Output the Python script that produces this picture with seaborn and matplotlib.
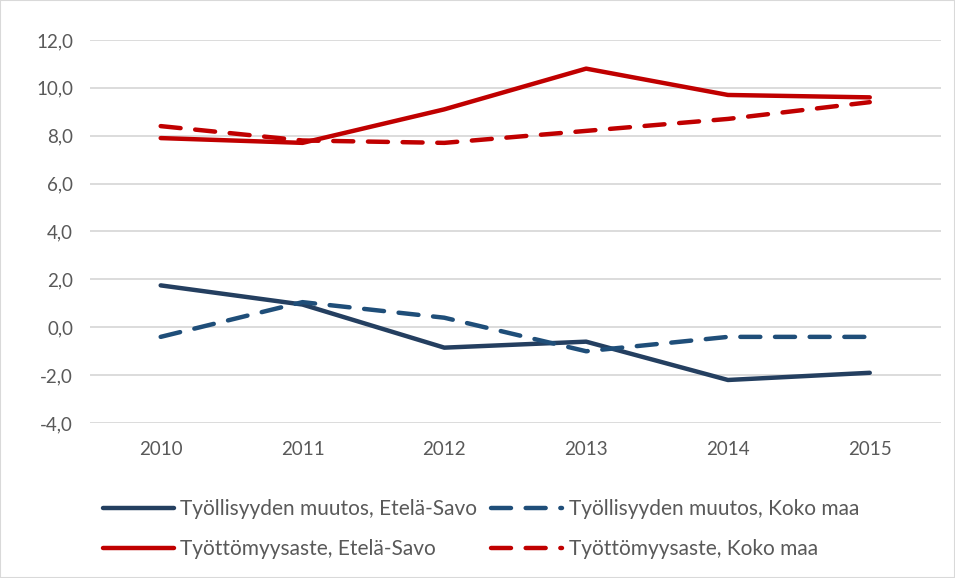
import pandas as pd
import matplotlib.pyplot as plt
import seaborn as sns
from matplotlib.patches import Rectangle

# Data
years = ['2010', '2011', '2012', '2013', '2014', '2015']
tyoll_etela_savo = [1.75, 0.95, -0.85, -0.6, -2.2, -1.9]
tyoll_koko_maa = [-0.4, 1.05, 0.4, -1.0, -0.4, -0.4]
tyott_etela_savo = [7.9, 7.7, 9.1, 10.8, 9.7, 9.6]
tyott_koko_maa = [8.4, 7.8, 7.7, 8.2, 8.7, 9.4]

series = [
    ('Työllisyyden muutos, Etelä-Savo', tyoll_etela_savo, '#243F60', '-'),
    ('Työllisyyden muutos, Koko maa', tyoll_koko_maa, '#1F4E79', '--'),
    ('Työttömyysaste, Etelä-Savo', tyott_etela_savo, '#C00000', '-'),
    ('Työttömyysaste, Koko maa', tyott_koko_maa, '#C00000', '--'),
]

sns.set_style('white')
plt.rcParams['font.family'] = ['Lato', 'DejaVu Sans']

fig = plt.figure(figsize=(9.55, 5.78), dpi=100)
ax = fig.add_axes([0.094, 0.268, 0.891, 0.663])

x = list(range(len(years)))
for name, vals, color, ls in series:
    df = pd.DataFrame({'x': x, 'y': vals})
    line_kw = dict(color=color, linewidth=3.2, label=name, solid_capstyle='round')
    if ls == '--':
        line_kw['dashes'] = (4.5, 3.3)
        line_kw['dash_capstyle'] = 'round'
    sns.lineplot(data=df, x='x', y='y', ax=ax, **line_kw)

ax.set_xlim(-0.5, 5.5)
ax.set_ylim(-4, 12)
ax.set_yticks(range(-4, 13, 2))
ax.set_yticklabels([f'{v:.1f}'.replace('.', ',') for v in range(-4, 13, 2)])
ax.set_xticks(x)
ax.set_xticklabels(years)
ax.set_xlabel('')
ax.set_ylabel('')
ax.tick_params(axis='both', length=0, labelsize=13.5, labelcolor='#595959')
ax.tick_params(axis='x', pad=13)
ax.tick_params(axis='y', pad=12)
ax.grid(axis='y', color='#D9D9D9', linewidth=1.3)
ax.set_axisbelow(True)
for s in ax.spines.values():
    s.set_visible(False)

handles, labels = ax.get_legend_handles_labels()
if ax.legend_:
    ax.legend_.remove()
# legend fills column-wise, so reorder to get the reference's row layout
order = [0, 2, 1, 3]
fig.legend([handles[i] for i in order], [labels[i] for i in order], ncol=2,
           loc='lower left', bbox_to_anchor=(0.088, 0.0), frameon=False,
           fontsize=15, labelcolor='#595959', handlelength=3.4,
           handletextpad=0.3, columnspacing=0.7, labelspacing=0.95)

fig.patches.append(Rectangle((0, 0), 1, 1, transform=fig.transFigure, fill=False,
                             edgecolor='#D9D9D9', linewidth=1.5))

plt.savefig('out.png', dpi=100)
